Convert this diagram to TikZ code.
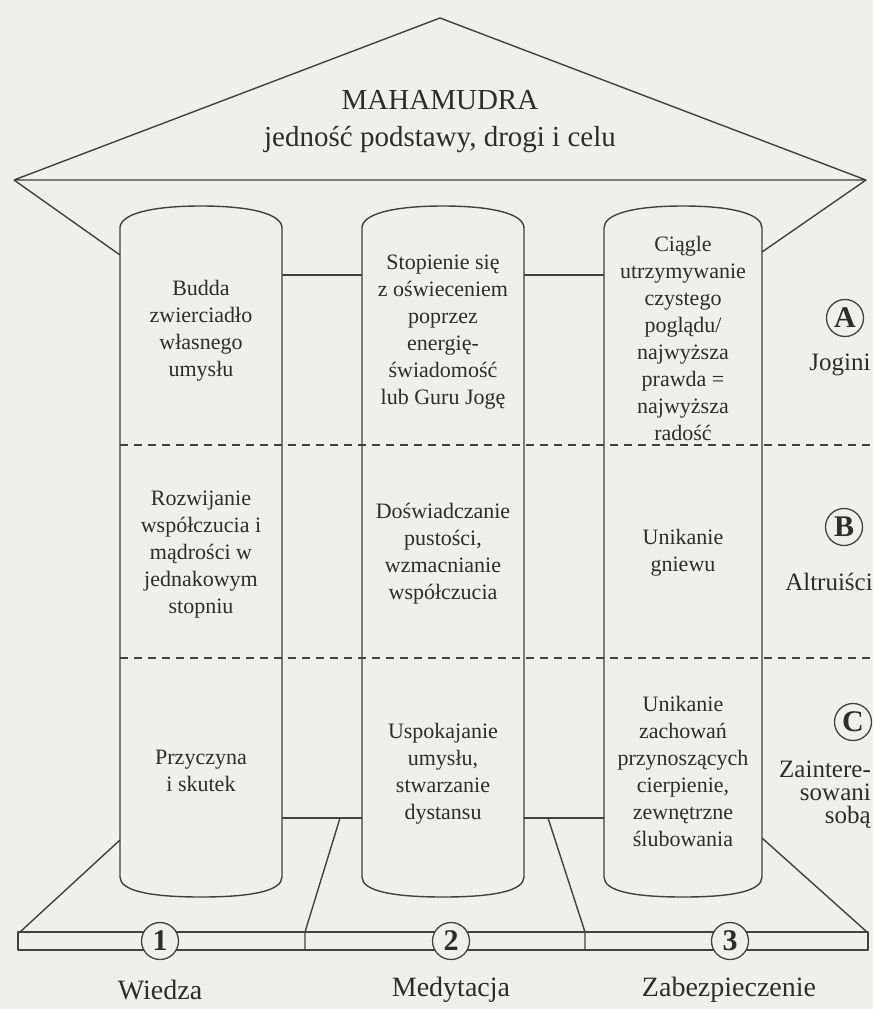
\documentclass[tikz,border=0pt]{standalone}
\usepackage{fontspec}
\setmainfont{Liberation Serif}
\definecolor{bg}{RGB}{240,239,234}
\definecolor{ink}{RGB}{65,65,65}
\definecolor{txt}{RGB}{45,45,45}
\tikzset{
  ln/.style={draw=ink, line width=1.4pt, line join=round},
  dsh/.style={draw=ink, line width=1.4pt, dash pattern=on 8pt off 6pt},
  ptxt/.style={text=txt, align=center, font=\fontsize{22}{27}\selectfont, inner sep=0pt},
  lbl/.style={text=txt, align=center, font=\fontsize{25}{25}\selectfont, inner sep=0pt},
  blbl/.style={text=txt, align=center, font=\fontsize{28}{28}\selectfont, inner sep=0pt},
  circ/.style={circle, draw=ink, line width=1.3pt, fill=bg, minimum size=37pt, inner sep=0pt, text=txt, font=\fontsize{30}{30}\bfseries\selectfont},
}
\newcommand{\pillar}[2]{%
  \pgfmathsetmacro{\pc}{(#1+#2)/2}%
  \draw[ln] (#1,877) -- (#1,228) .. controls (#1,214) and (\pc-50,206) .. (\pc,206)
     .. controls (\pc+50,206) and (#2,214) .. (#2,228) -- (#2,877)
     .. controls (#2,891) and (\pc+50,897) .. (\pc,897)
     .. controls (\pc-50,897) and (#1,891) .. (#1,877) -- cycle;}
\begin{document}
\begin{tikzpicture}[x=1pt,y=-1pt]
\fill[bg] (0,0) rectangle (873,1009);
\useasboundingbox (0,0) rectangle (873,1009);
% roof
\draw[ln] (14,180) -- (440,18) -- (866,180) -- cycle;
\draw[ln] (14,180) -- (120,255);
\draw[ln] (866,180) -- (762,252);
% beams
\draw[ln] (282,275) -- (362,275);
\draw[ln] (524,275) -- (604,275);
\draw[ln] (282,818) -- (362,818);
\draw[ln] (524,818) -- (604,818);
% pillars
\pillar{120}{282}
\pillar{362}{524}
\pillar{604}{762}
% dashed level lines
\draw[dsh] (120,445) -- (873,445);
\draw[dsh] (120,658) -- (873,658);
% base
\draw[ln] (120,840) -- (20,932);
\draw[ln] (762,838) -- (867,932);
\draw[ln] (18,932) rectangle (868,950);
\draw[ln] (340,818) -- (305,932) -- (305,950);
\draw[ln] (548,818) -- (585,932) -- (585,950);
\node[circ] (n1) at (160,941) {1};
\node[circ] (n2) at (451,941) {2};
\node[circ] (n3) at (730,941) {3};
% roof text
\node[text=txt, font=\fontsize{29}{29}\selectfont] (title) at (440,100) {MAHAMUDRA};
\node[text=txt, font=\fontsize{29}{29}\selectfont] (sub) at (440,140) {jedność podstawy, drogi i celu};
% pillar texts
\node[ptxt] (a1) at (201,331) {Budda\\zwierciadło\\własnego\\umysłu};
\node[ptxt] (a2) at (443,332) {Stopienie się\\z oświeceniem\\poprzez\\energię-\\świadomość\\lub Guru Jogę};
\node[ptxt] (a3) at (683,338) {Ciągle\\utrzymywanie\\czystego\\poglądu/\\najwyższa\\prawda =\\najwyższa\\radość};
\node[ptxt] (b1) at (201,555) {Rozwijanie\\współczucia i\\mądrości w\\jednakowym\\stopniu};
\node[ptxt] (b2) at (443,554) {Doświadczanie\\pustości,\\wzmacnianie\\współczucia};
\node[ptxt] (b3) at (683,553) {Unikanie\\gniewu};
\node[ptxt] (c1) at (201,771) {Przyczyna\\i skutek};
\node[ptxt] (c2) at (443,774) {Uspokajanie\\umysłu,\\stwarzanie\\dystansu};
\node[ptxt] (c3) at (683,771) {Unikanie\\zachowań\\przynoszących\\cierpienie,\\zewnętrzne\\ślubowania};
% right labels
\node[circ] (cA) at (845,318) {A};
\node[lbl] (lA) at (840,365) {Jogini};
\node[circ] (cB) at (844,527) {B};
\node[lbl] (lB) at (829,582) {Altruiści};
\node[circ] (cC) at (853,722) {C};
\node[lbl, align=right, anchor=north east, font=\fontsize{25}{23}\selectfont] (lC) at (871,761) {Zaintere-\\sowani\\sobą};
% bottom labels
\node[blbl] (w1) at (160,990) {Wiedza};
\node[blbl] (w2) at (451,990) {Medytacja};
\node[blbl] (w3) at (729,990) {Zabezpieczenie};
\end{tikzpicture}
\end{document}
